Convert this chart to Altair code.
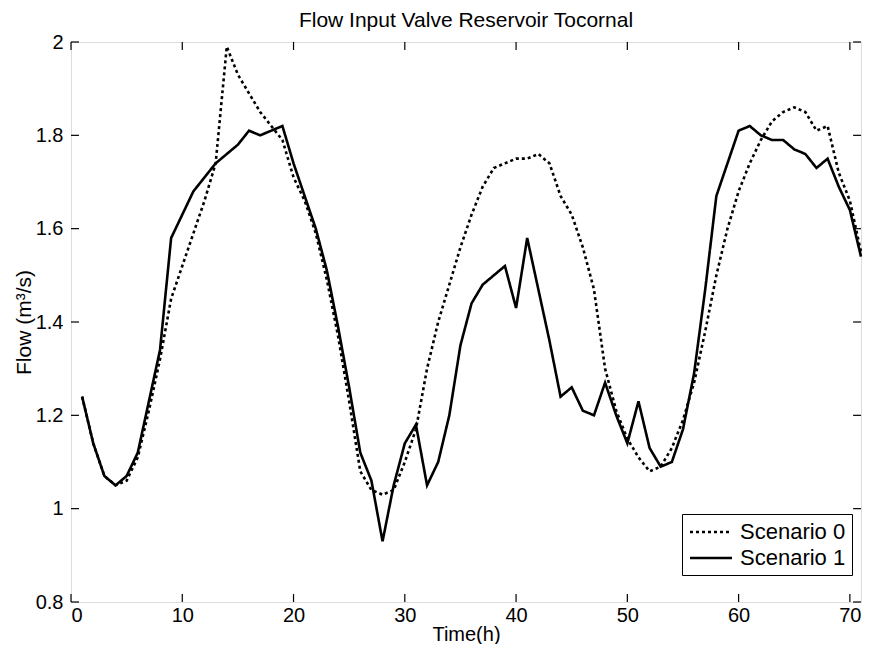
import altair as alt
import pandas as pd

hours = list(range(1, 72))

scenario0 = [1.24, 1.14, 1.07, 1.05, 1.06, 1.11, 1.21, 1.32, 1.45, 1.52,
             1.59, 1.66, 1.74, 1.99, 1.93, 1.89, 1.85, 1.82, 1.79, 1.71,
             1.66, 1.59, 1.49, 1.37, 1.23, 1.08, 1.04, 1.03, 1.04, 1.10,
             1.17, 1.30, 1.40, 1.48, 1.56, 1.63, 1.69, 1.73, 1.74, 1.75,
             1.75, 1.76, 1.74, 1.67, 1.63, 1.56, 1.47, 1.30, 1.21, 1.15,
             1.11, 1.08, 1.09, 1.13, 1.19, 1.27, 1.38, 1.50, 1.60, 1.68,
             1.74, 1.79, 1.83, 1.85, 1.86, 1.85, 1.81, 1.82, 1.72, 1.66,
             1.55]

scenario1 = [1.24, 1.14, 1.07, 1.05, 1.07, 1.12, 1.23, 1.34, 1.58, 1.63,
             1.68, 1.71, 1.74, 1.76, 1.78, 1.81, 1.80, 1.81, 1.82, 1.74,
             1.67, 1.60, 1.51, 1.39, 1.26, 1.12, 1.06, 0.93, 1.05, 1.14,
             1.18, 1.05, 1.10, 1.20, 1.35, 1.44, 1.48, 1.50, 1.52, 1.43,
             1.58, 1.47, 1.36, 1.24, 1.26, 1.21, 1.20, 1.27, 1.20, 1.14,
             1.23, 1.13, 1.09, 1.10, 1.17, 1.29, 1.47, 1.67, 1.74, 1.81,
             1.82, 1.80, 1.79, 1.79, 1.77, 1.76, 1.73, 1.75, 1.69, 1.64,
             1.54]

series_names = ["Scenario 0", "Scenario 1"]
x_ticks = [0, 10, 20, 30, 40, 50, 60, 70]
y_ticks = [0.8, 1.0, 1.2, 1.4, 1.6, 1.8, 2.0]

FONT = "Liberation Sans"
TICK = 8

df = pd.concat([
    pd.DataFrame({"t": hours, "flow": scenario0, "scenario": series_names[0]}),
    pd.DataFrame({"t": hours, "flow": scenario1, "scenario": series_names[1]}),
])

xscale = alt.Scale(domain=[0, 71], nice=False, zero=False)
yscale = alt.Scale(domain=[0.8, 2.0], nice=False, zero=False)

lines = alt.Chart(df).mark_line(color="black", strokeWidth=2.6).encode(
    x=alt.X("t:Q", scale=xscale,
            axis=alt.Axis(values=x_ticks, title="Time(h)", format="d",
                          ticks=False, domain=False, grid=False,
                          labelFontSize=20, labelPadding=3, labelFont=FONT,
                          titleFontSize=20, titleFont=FONT, titleFontWeight="normal",
                          titlePadding=-1, labelColor="black", titleColor="black")),
    y=alt.Y("flow:Q", scale=yscale,
            axis=alt.Axis(values=y_ticks, title="Flow (m³/s)", format="~g",
                          ticks=False, domain=False, grid=False,
                          labelFontSize=20, labelPadding=8, labelFont=FONT,
                          titleFontSize=21, titleFont=FONT, titleFontWeight="normal",
                          titlePadding=1, labelColor="black", titleColor="black")),
    strokeDash=alt.StrokeDash(
        "scenario:N",
        scale=alt.Scale(domain=series_names, range=[[3, 3], [1, 0]]),
        legend=alt.Legend(title=None, orient="none", legendX=611, legendY=472,
                          symbolType="M-2,0H2", symbolSize=441,
                          symbolStrokeWidth=2.6, symbolStrokeColor="black",
                          symbolOffset=11,
                          labelFontSize=22, labelFont=FONT, labelColor="black",
                          labelOffset=17, fillColor="white", strokeColor="black",
                          padding=6, rowPadding=3)),
)

xt = pd.DataFrame({"v": x_ticks})
yt = pd.DataFrame({"v": y_ticks})

rule_style = dict(color="black", strokeWidth=1.2)
bottom_ticks = alt.Chart(xt).mark_rule(**rule_style).encode(
    x=alt.X("v:Q", scale=xscale),
    y=alt.Y(datum=0.8, scale=yscale), y2=alt.Y2(datum=0.8 + 0.017))
top_ticks = alt.Chart(xt).mark_rule(**rule_style).encode(
    x=alt.X("v:Q", scale=xscale), y=alt.value(0), y2=alt.value(TICK))
left_ticks = alt.Chart(yt).mark_rule(**rule_style).encode(
    y=alt.Y("v:Q", scale=yscale), x=alt.value(0), x2=alt.value(TICK))
right_ticks = alt.Chart(yt).mark_rule(**rule_style).encode(
    y=alt.Y("v:Q", scale=yscale),
    x=alt.X(datum=71, scale=xscale), x2=alt.X2(datum=71 - 0.71))

chart = alt.layer(lines, bottom_ticks, top_ticks, left_ticks, right_ticks).properties(
    width=855, height=636,
    title=alt.Title("Flow Input Valve Reservoir Tocornal", fontSize=21, font=FONT,
                    fontWeight="normal", color="black", baseline="alphabetic",
                    offset=-16, anchor="middle"),
    autosize=alt.AutoSizeParams(type="fit", contains="padding"),
    padding={"left": 5, "top": 2, "right": -4, "bottom": 0},
).configure_view(stroke="black", strokeWidth=1.5).configure(background="white")

chart.save("out.html", embed_options={"renderer": "svg", "actions": False})
